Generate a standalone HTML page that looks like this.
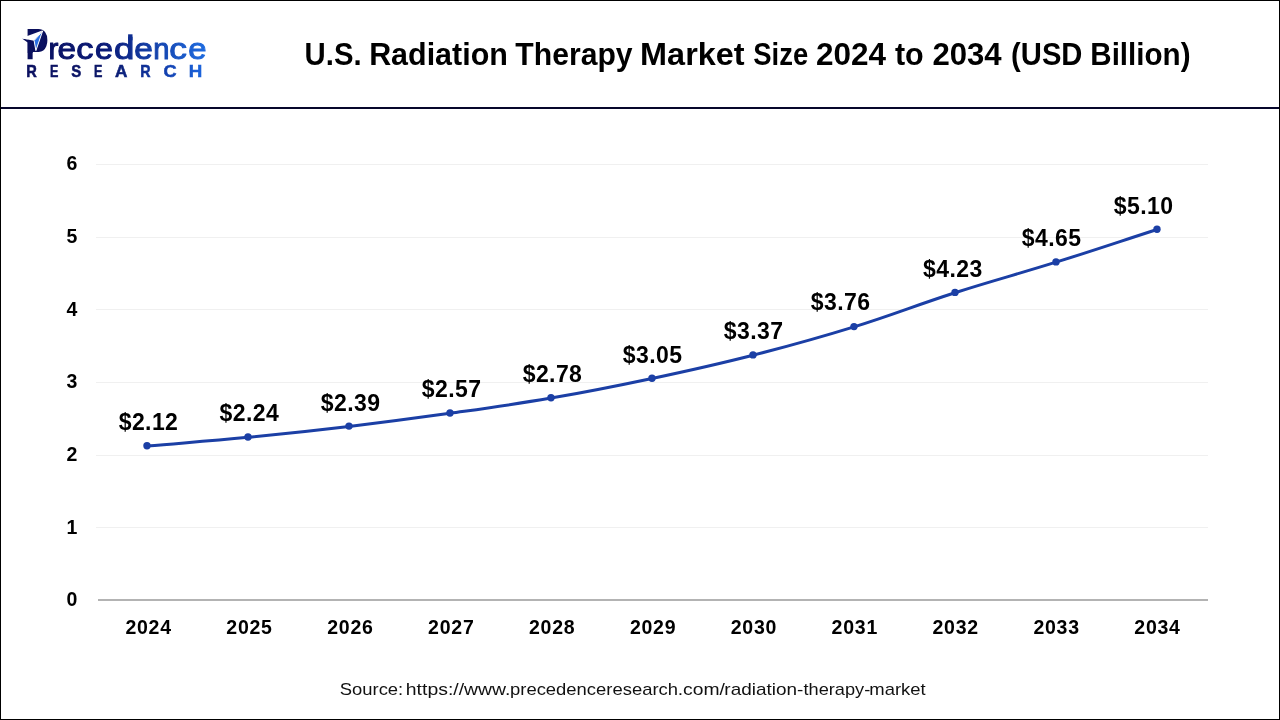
<!DOCTYPE html>
<html lang="en">
<head>
<meta charset="utf-8">
<title>U.S. Radiation Therapy Market Size 2024 to 2034 (USD Billion)</title>
<style>
html,body{margin:0;padding:0;background:#fff;}
body{width:1280px;height:720px;overflow:hidden;position:relative;font-family:"Liberation Sans",sans-serif;}
svg{position:absolute;left:0;top:0;display:block;}
text{font-family:"Liberation Sans",sans-serif;}
.b{font-weight:700;fill:#000;}
.ax{font-size:19.5px;letter-spacing:0.75px;}
.dl{font-size:23px;letter-spacing:0.42px;}
.src{font-size:17px;fill:#111;}
</style>
</head>
<body>
<svg width="1280" height="720" viewBox="0 0 1280 720">
<defs>
<linearGradient id="lg" gradientUnits="userSpaceOnUse" x1="25" y1="0" x2="206" y2="0">
<stop offset="0" stop-color="#0a0f5c"/><stop offset="0.45" stop-color="#0a1a78"/><stop offset="1" stop-color="#1e6be0"/>
</linearGradient>
<linearGradient id="lg2" gradientUnits="userSpaceOnUse" x1="25" y1="0" x2="202" y2="0">
<stop offset="0" stop-color="#0b1060"/><stop offset="0.45" stop-color="#0b1768"/><stop offset="0.75" stop-color="#1038a5"/><stop offset="1" stop-color="#1c64dc"/>
</linearGradient>
</defs>
<rect x="0" y="0" width="1280" height="720" fill="#fff"/>
<rect x="96" y="527" width="1112" height="1" fill="#f0f0f0"/>
<rect x="96" y="455" width="1112" height="1" fill="#f0f0f0"/>
<rect x="96" y="382" width="1112" height="1" fill="#f0f0f0"/>
<rect x="96" y="309" width="1112" height="1" fill="#f0f0f0"/>
<rect x="96" y="237" width="1112" height="1" fill="#f0f0f0"/>
<rect x="96" y="164" width="1112" height="1" fill="#f0f0f0"/>
<rect x="98" y="599" width="1110" height="2" fill="#b3b3b3"/>
<text class="b ax" x="78.0" y="606.3" text-anchor="end">0</text>
<text class="b ax" x="78.0" y="533.6" text-anchor="end">1</text>
<text class="b ax" x="78.0" y="461.0" text-anchor="end">2</text>
<text class="b ax" x="78.0" y="388.3" text-anchor="end">3</text>
<text class="b ax" x="78.0" y="315.6" text-anchor="end">4</text>
<text class="b ax" x="78.0" y="242.9" text-anchor="end">5</text>
<text class="b ax" x="78.0" y="170.3" text-anchor="end">6</text>
<text class="b ax" x="148.6" y="633.6" text-anchor="middle">2024</text>
<text class="b ax" x="249.5" y="633.6" text-anchor="middle">2025</text>
<text class="b ax" x="350.4" y="633.6" text-anchor="middle">2026</text>
<text class="b ax" x="451.3" y="633.6" text-anchor="middle">2027</text>
<text class="b ax" x="552.2" y="633.6" text-anchor="middle">2028</text>
<text class="b ax" x="653.1" y="633.6" text-anchor="middle">2029</text>
<text class="b ax" x="753.9" y="633.6" text-anchor="middle">2030</text>
<text class="b ax" x="854.8" y="633.6" text-anchor="middle">2031</text>
<text class="b ax" x="955.7" y="633.6" text-anchor="middle">2032</text>
<text class="b ax" x="1056.6" y="633.6" text-anchor="middle">2033</text>
<text class="b ax" x="1157.5" y="633.6" text-anchor="middle">2034</text>
<path d="M147.0 446.04 C187.4 442.55 207.6 441.24 248.0 437.32 C288.4 433.39 308.7 431.21 349.0 426.42 C389.5 421.62 409.7 419.00 450.0 413.34 C490.5 407.66 510.7 405.03 551.0 398.08 C591.5 391.08 611.7 387.00 652.0 378.46 C692.5 369.85 712.8 365.46 753.0 355.20 C793.6 344.82 813.9 339.26 854.0 326.86 C894.7 314.26 914.4 305.71 955.0 292.71 C995.2 279.84 1015.7 274.79 1056.0 262.18 C1096.5 249.50 1116.6 242.56 1157.0 229.48" fill="none" stroke="#1b3fa5" stroke-width="3" stroke-linejoin="round" stroke-linecap="round"/>
<circle cx="147.0" cy="445.7" r="3.7" fill="#1b3fa5"/>
<circle cx="248.0" cy="437.0" r="3.7" fill="#1b3fa5"/>
<circle cx="349.0" cy="426.1" r="3.7" fill="#1b3fa5"/>
<circle cx="450.0" cy="413.0" r="3.7" fill="#1b3fa5"/>
<circle cx="551.0" cy="397.8" r="3.7" fill="#1b3fa5"/>
<circle cx="652.0" cy="378.2" r="3.7" fill="#1b3fa5"/>
<circle cx="753.0" cy="354.9" r="3.7" fill="#1b3fa5"/>
<circle cx="854.0" cy="326.6" r="3.7" fill="#1b3fa5"/>
<circle cx="955.0" cy="292.4" r="3.7" fill="#1b3fa5"/>
<circle cx="1056.0" cy="261.9" r="3.7" fill="#1b3fa5"/>
<circle cx="1157.0" cy="229.2" r="3.7" fill="#1b3fa5"/>
<text class="b dl" x="148.5" y="430.3" text-anchor="middle">$2.12</text>
<text class="b dl" x="249.4" y="420.8" text-anchor="middle">$2.24</text>
<text class="b dl" x="350.6" y="410.6" text-anchor="middle">$2.39</text>
<text class="b dl" x="451.7" y="396.9" text-anchor="middle">$2.57</text>
<text class="b dl" x="552.5" y="381.6" text-anchor="middle">$2.78</text>
<text class="b dl" x="652.7" y="362.6" text-anchor="middle">$3.05</text>
<text class="b dl" x="753.6" y="339.2" text-anchor="middle">$3.37</text>
<text class="b dl" x="840.7" y="310.3" text-anchor="middle">$3.76</text>
<text class="b dl" x="952.8" y="276.6" text-anchor="middle">$4.23</text>
<text class="b dl" x="1051.7" y="245.8" text-anchor="middle">$4.65</text>
<text class="b dl" x="1143.6" y="213.7" text-anchor="middle">$5.10</text>
<text class="b" y="64.9" font-size="30.6"><tspan x="304.59" textLength="57.01" lengthAdjust="spacingAndGlyphs">U.S.</tspan> <tspan x="369.14" textLength="138.71" lengthAdjust="spacingAndGlyphs">Radiation</tspan> <tspan x="515.36" textLength="117.25" lengthAdjust="spacingAndGlyphs">Therapy</tspan> <tspan x="640.11" textLength="104.47" lengthAdjust="spacingAndGlyphs">Market</tspan> <tspan x="753.32" textLength="54.93" lengthAdjust="spacingAndGlyphs">Size</tspan> <tspan x="815.98" textLength="70.05" lengthAdjust="spacingAndGlyphs">2024</tspan> <tspan x="894.95" textLength="28.80" lengthAdjust="spacingAndGlyphs">to</tspan> <tspan x="932.40" textLength="69.23" lengthAdjust="spacingAndGlyphs">2034</tspan> <tspan x="1011.09" textLength="71.36" lengthAdjust="spacingAndGlyphs">(USD</tspan> <tspan x="1090.29" textLength="100.26" lengthAdjust="spacingAndGlyphs">Billion)</tspan></text>
<text class="src" y="695"><tspan x="339.79" textLength="63.45" lengthAdjust="spacingAndGlyphs">Source:</tspan> <tspan x="405.82" textLength="104.65" lengthAdjust="spacingAndGlyphs">https://www.</tspan><tspan x="510.03" textLength="168.00" lengthAdjust="spacingAndGlyphs">precedenceresearch</tspan><tspan x="677.70" textLength="47.21" lengthAdjust="spacingAndGlyphs">.com/</tspan><tspan x="724.35" textLength="78.95" lengthAdjust="spacingAndGlyphs">radiation-</tspan><tspan x="803.48" textLength="66.73" lengthAdjust="spacingAndGlyphs">therapy-</tspan><tspan x="869.38" textLength="56.32" lengthAdjust="spacingAndGlyphs">market</tspan></text>
<clipPath id="pc"><rect x="20" y="20" width="40" height="39.3"/></clipPath>
<g id="logo" fill="url(#lg)">
<g clip-path="url(#pc)"><text transform="translate(25.25 63.7) scale(0.70 1)" font-size="50" font-weight="700">P</text></g>
<path d="M30 31.5 L42.5 31.5 L44 34 L44 46 L42.5 48.5 L30 48.5 Z"/>
<path d="M22 38.4 L34 40.6 L35.9 50.4 L32.7 50.8 L32.7 53 L27.7 53 L27.7 42.4 Z"/>
<path d="M21.2 38.25 L42.9 30.3 L34.1 40.8 Z" fill="#fff"/>
<path d="M34.1 40.6 L42.6 31.0 L35.9 50.6 Z" fill="#2a6fe3" stroke="#fff" stroke-width="1" stroke-linejoin="round"/>
<rect x="128.1" y="34.3" width="4.4" height="6"/>
<text y="59.3" font-size="29.6" stroke="url(#lg)" stroke-width="1" stroke-linejoin="round"><tspan x="48.38" textLength="9.86" lengthAdjust="spacingAndGlyphs">r</tspan><tspan x="57.40" textLength="18.54" lengthAdjust="spacingAndGlyphs">e</tspan><tspan x="76.35" textLength="17.21" lengthAdjust="spacingAndGlyphs">c</tspan><tspan x="94.95" textLength="17.94" lengthAdjust="spacingAndGlyphs">e</tspan><tspan x="114.03" textLength="20.39" lengthAdjust="spacingAndGlyphs">d</tspan><tspan x="134.25" textLength="18.60" lengthAdjust="spacingAndGlyphs">e</tspan><tspan x="153.20" textLength="16.23" lengthAdjust="spacingAndGlyphs">n</tspan><tspan x="169.31" textLength="17.67" lengthAdjust="spacingAndGlyphs">c</tspan><tspan x="188.32" textLength="18.30" lengthAdjust="spacingAndGlyphs">e</tspan></text>
<text y="77.1" font-size="16.6" font-weight="700" fill="url(#lg2)" stroke="url(#lg2)" stroke-width="0.5"><tspan x="26.30" textLength="10.58" lengthAdjust="spacingAndGlyphs">R</tspan><tspan x="49.93" textLength="8.38" lengthAdjust="spacingAndGlyphs">E</tspan><tspan x="71.20" textLength="10.01" lengthAdjust="spacingAndGlyphs">S</tspan><tspan x="94.03" textLength="8.38" lengthAdjust="spacingAndGlyphs">E</tspan><tspan x="115.12" textLength="12.40" lengthAdjust="spacingAndGlyphs">A</tspan><tspan x="140.22" textLength="10.35" lengthAdjust="spacingAndGlyphs">R</tspan><tspan x="163.43" textLength="13.07" lengthAdjust="spacingAndGlyphs">C</tspan><tspan x="188.73" textLength="13.53" lengthAdjust="spacingAndGlyphs">H</tspan></text>
</g>
<rect x="0" y="107" width="1280" height="2" fill="#06062b"/>
<rect x="0" y="0" width="1280" height="1" fill="#000"/>
<rect x="0" y="719" width="1280" height="1" fill="#000"/>
<rect x="0" y="0" width="1" height="720" fill="#000"/>
<rect x="1279" y="0" width="1" height="720" fill="#000"/>
</svg>
</body>
</html>
